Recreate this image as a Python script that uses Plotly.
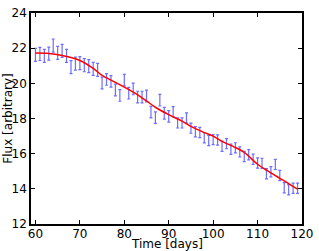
import plotly.graph_objects as go

days = list(range(60, 120))
flux = [21.62, 21.67, 21.56, 21.69, 22.15, 21.73, 21.85, 21.56, 20.92, 21.12,
        21.15, 21.03, 20.98, 20.82, 20.77, 20.02, 20.22, 20.11, 19.62, 19.31,
        20.18, 19.44, 19.68, 19.22, 19.22, 19.28, 18.36, 18.05, 19.04, 18.30,
        18.12, 18.39, 17.75, 17.75, 18.03, 17.45, 17.25, 17.20, 16.90, 16.75,
        16.80, 16.78, 16.42, 16.57, 16.25, 16.33, 16.10, 15.84, 15.94, 15.68,
        15.47, 15.45, 14.86, 14.97, 15.39, 14.76, 14.06, 13.95, 14.03, 14.03]
flux_err = [0.37] * 15 + [0.33] * 16 + [0.29] * 29

model_days = [60, 63, 66, 70, 73, 75, 78, 80, 83, 85, 87, 90, 93, 95, 98,
              100, 102, 105, 107, 110, 112, 115, 117, 119]
model_flux = [21.72, 21.70, 21.58, 21.30, 20.85, 20.45, 20.05, 19.78, 19.35,
              19.00, 18.64, 18.22, 17.85, 17.55, 17.20, 17.00, 16.70, 16.35,
              16.07, 15.40, 15.06, 14.60, 14.30, 13.98]

x_ticks = [60, 70, 80, 90, 100, 110, 120]
y_ticks = [12, 14, 16, 18, 20, 22, 24]

FONT = dict(family="DejaVu Sans", size=12, color="black")

fig = go.Figure()
fig.add_trace(go.Scatter(
    x=days, y=flux, mode="markers",
    marker=dict(size=1, color="rgba(0,0,0,0)"),
    error_y=dict(type="data", array=flux_err, visible=True,
                 color="rgba(60,60,255,0.75)", thickness=1.2, width=1.5),
    showlegend=False, hoverinfo="skip"))
fig.add_trace(go.Scatter(
    x=model_days, y=model_flux, mode="lines",
    line=dict(color="#ff0000", width=1.5, shape="spline", smoothing=0.8),
    showlegend=False, hoverinfo="skip"))

axis_common = dict(showline=True, linecolor="black", linewidth=1.6, mirror="allticks",
                   ticks="inside", ticklen=4, tickwidth=1, tickcolor="black",
                   showgrid=False, zeroline=False, tickfont=FONT,
                   ticklabeloverflow="allow")

fig.update_layout(
    width=319, height=251,
    margin=dict(l=31, r=9, t=6, b=27),
    paper_bgcolor="white", plot_bgcolor="white",
    xaxis=dict(range=[59, 120], tickvals=x_ticks, ticklabelstandoff=-2, **axis_common),
    yaxis=dict(range=[12, 24], tickvals=y_ticks, **axis_common),
    annotations=[
        dict(text="Time [days]", xref="paper", yref="paper", x=0.5, y=-0.097,
             xanchor="center", yanchor="middle", showarrow=False, font=FONT),
        dict(text="Flux [arbitrary]", xref="paper", yref="paper", x=-0.088, y=0.5,
             xanchor="center", yanchor="middle", textangle=-90, showarrow=False,
             font=FONT),
    ],
)

fig.write_html("out.html", config={"displayModeBar": False},
               post_script="document.body.style.margin='0';document.body.style.overflow='hidden';")
